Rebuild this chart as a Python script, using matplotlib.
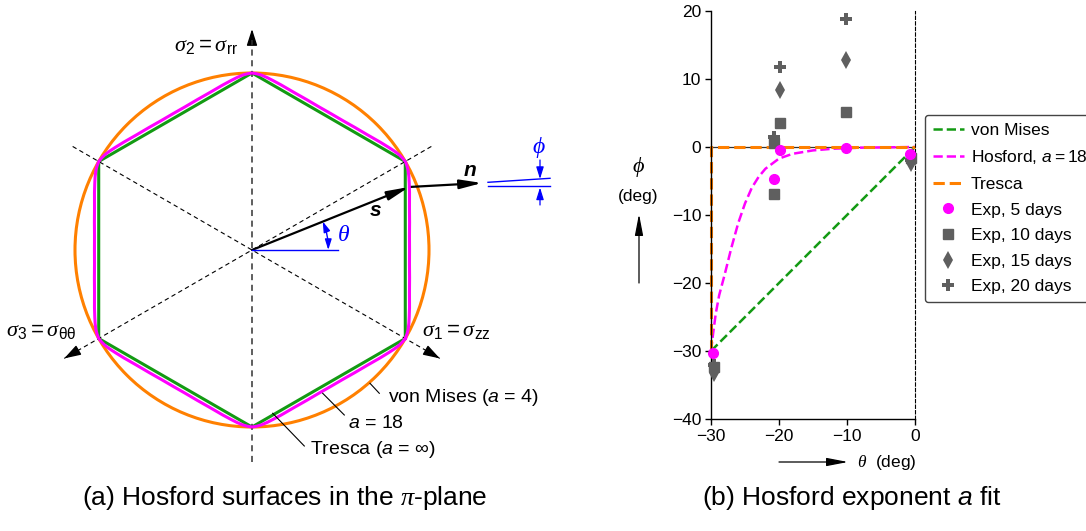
import numpy as np
import matplotlib.pyplot as plt
from matplotlib.patches import Circle, RegularPolygon, FancyArrowPatch

plt.rcParams['font.family'] = ['Liberation Sans', 'DejaVu Sans']
plt.rcParams['mathtext.fontset'] = 'custom'
plt.rcParams['mathtext.rm'] = 'Liberation Sans'
plt.rcParams['mathtext.it'] = 'Liberation Sans:italic'
plt.rcParams['mathtext.bf'] = 'Liberation Sans:bold:italic'
plt.rcParams['mathtext.cal'] = 'Liberation Serif:italic'

W, H = 1086, 531
GREEN, MAGENTA, ORANGE, GREY, BLUE = '#139a13', '#ff00ff', '#ff8000', '#5f5f5f', '#0000ff'

# (a) a = 18 surface in the pi-plane, radius relative to the von Mises circle,
# angle (deg) measured from the middle of a Tresca edge up to the next vertex
h18_ang = [0, 5, 10, 15, 20, 23, 25, 27, 28.5, 30]
h18_rad = [0.890, 0.893, 0.904, 0.921, 0.947, 0.965, 0.978, 0.990, 0.996, 1.0]

# (b) normal angle phi against theta
theta_vm = [-30, 0]
phi_vm = [-30, 0]
theta_tr = [-30, -30, 0]
phi_tr = [-30, 0, 0]
theta_h18 = [-30, -29.7, -29.3, -28.8, -28.0, -27.0, -26.0, -25.0, -24.0, -23.0,
             -22.0, -20.0, -18.0, -15.0, -12.0, -8.0, -4.0, 0]
phi_h18 = [-30, -27.5, -24.5, -21.8, -18.8, -14.8, -11.2, -8.3, -6.0, -4.4,
           -3.2, -1.7, -1.0, -0.5, -0.25, -0.1, -0.05, 0]

exp5_theta = [-29.75, -20.7, -19.85, -10.15, -0.8]
exp5_phi = [-30.3, -4.75, -0.5, -0.2, -1.0]
exp10_theta = [-29.6, -20.7, -20.75, -19.85, -10.15, -0.6]
exp10_phi = [-32.4, -6.9, 0.6, 3.6, 5.2, -1.6]
exp15_theta = [-29.6, -20.7, -19.85, -10.15, -0.6]
exp15_phi = [-33.2, 1.0, 8.4, 12.8, -2.4]
exp20_theta = [-29.6, -20.75, -19.85, -10.15, -0.6]
exp20_phi = [-32.0, 1.4, 11.8, 18.8, -1.9]

fig = plt.figure(figsize=(W / 100, H / 100), dpi=100)


def fxy(x, y):
    return x / W, 1 - y / H


# ---------------- (a) Hosford surfaces ----------------
CX, CY, R = 252, 250, 177
axa = fig.add_axes([0, 0, 560 / W, 1])
axa.set_xlim(-CX / R, (560 - CX) / R)
axa.set_ylim((CY - H) / R, CY / R)
axa.axis('off')


def p(x, y):
    return (x - CX) / R, (CY - y) / R


def arrow(ax, a, b, color='k', lw=1.0, style='-|>', hl=0.9, hw=0.3, ms=10, **kw):
    ar = FancyArrowPatch(a, b, arrowstyle=f'{style},head_length={hl},head_width={hw}',
                         mutation_scale=ms, color=color, lw=lw, shrinkA=0, shrinkB=0, **kw)
    ax.add_patch(ar)
    return ar


# principal axes
axa.plot([0, 0], [p(0, 462)[1], p(0, 40)[1]], color='#333333', lw=1.1, dashes=(4, 3))
arrow(axa, p(252, 44), p(252, 29), hl=1.0, hw=0.32)
for deg, L_up, L_dn in [(150, 1.17, 1.225), (30, 1.17, 1.225)]:
    t = np.radians(deg)
    a = (L_up * np.cos(t), L_up * np.sin(t))
    b = (-L_dn * np.cos(t), -L_dn * np.sin(t))
    axa.plot([a[0], b[0]], [a[1], b[1]], color='k', lw=0.8, dashes=(4, 3))
    arrow(axa, (-(L_dn - 0.09) * np.cos(t), -(L_dn - 0.09) * np.sin(t)), b, hl=1.0, hw=0.32)

axa.add_patch(Circle((0, 0), 1.0, fill=False, color=ORANGE, lw=2.2))
axa.add_patch(RegularPolygon((0, 0), 6, radius=1.0, fill=False, color=GREEN, lw=2.2))

half = np.array(h18_ang)
rad = np.array(h18_rad)
sec_ang = np.concatenate([-half[::-1], half[1:]])
sec_rad = np.concatenate([rad[::-1], rad[1:]])
ang = np.radians(np.concatenate([sec_ang + 60 * k for k in range(6)]))
rr = np.tile(sec_rad, 6)
axa.plot(rr * np.cos(ang), rr * np.sin(ang), color=MAGENTA, lw=2.2)

# s and n vectors
tip = p(409, 187)
arrow(axa, (0, 0), tip, lw=1.6, hl=1.2, hw=0.25, ms=11)
arrow(axa, tip, p(482, 183), lw=1.6, hl=1.2, hw=0.25, ms=11)
axa.text(*p(376, 210), 's', fontsize=15, fontweight='bold', style='italic',
         ha='center', va='center')
axa.text(*p(470, 170), 'n', fontsize=15, fontweight='bold', style='italic',
         ha='center', va='center')

# theta marker (blue)
axa.plot([0, p(338, 250)[0]], [0, 0], color=BLUE, lw=1.0)
rho, th = 0.431, np.radians(22)
axa.add_patch(FancyArrowPatch((rho, 0), (rho * np.cos(th), rho * np.sin(th)),
                              connectionstyle=f'arc3,rad={np.tan(th / 4):.4f}',
                              arrowstyle='<|-|>,head_length=0.7,head_width=0.22',
                              mutation_scale=9, color=BLUE, lw=1.0, shrinkA=0, shrinkB=0))
axa.text(*p(344, 235), r'$\mathcal{\theta}$', fontsize=17, color=BLUE,
         ha='center', va='center')

# phi marker (blue)
axa.plot([p(488, 0)[0], p(550, 0)[0]], [p(0, 182.3)[1], p(0, 178.3)[1]], color=BLUE, lw=1.0)
axa.plot([p(488, 0)[0], p(550, 0)[0]], [p(0, 186.3)[1]] * 2, color=BLUE, lw=1.0)
arrow(axa, p(540, 160), p(540, 179), color=BLUE, lw=0.9, hl=0.8, hw=0.25, ms=9)
arrow(axa, p(540, 205), p(540, 187.5), color=BLUE, lw=0.9, hl=0.8, hw=0.25, ms=9)
axa.text(*p(539, 148), r'$\mathcal{\phi}$', fontsize=17, color=BLUE,
         ha='center', va='center')

# axis labels
axa.text(*p(238, 47), r'$\mathcal{\sigma}_2 = \mathcal{\sigma}_\mathrm{rr}$', fontsize=16,
         ha='right', va='center')
axa.text(*p(6, 331), r'$\mathcal{\sigma}_3 = \mathcal{\sigma}_{\mathrm{\theta\theta}}$',
         fontsize=16, ha='left', va='center')
axa.text(*p(422, 331), r'$\mathcal{\sigma}_1 = \mathcal{\sigma}_\mathrm{zz}$', fontsize=16,
         ha='left', va='center')

# curve labels with leaders
for (x0, y0), (x1, y1), (tx, ty), s in [
        ((370, 383.3), (379.3, 393.3), (388, 397), r'von Mises ($a$ = $\mathit{4}$)'),
        ((322.7, 393.3), (344.3, 415), (348, 423), r'$a$ = 18'),
        ((272.7, 413.3), (304.3, 446), (310, 449), r'Tresca ($a$ = ∞)')]:
    axa.plot([p(x0, y0)[0], p(x1, y1)[0]], [p(x0, y0)[1], p(x1, y1)[1]], color='k', lw=0.8)
    axa.text(*p(tx, ty), s, fontsize=14, ha='left', va='center')

fig.text(*fxy(285, 498), r'(a) Hosford surfaces in the $\mathcal{\pi}$-plane', fontsize=19,
         ha='center', va='center')

# ---------------- (b) exponent fit ----------------
axb = fig.add_axes([711 / W, 1 - 419 / H, 204 / W, 408 / H])
axb.axhline(0, color='#333333', lw=0.9, zorder=1)
axb.plot(theta_vm, phi_vm, '--', color=GREEN, lw=1.8, label='von Mises', zorder=2)
axb.plot(theta_h18, phi_h18, '--', color=MAGENTA, lw=1.8, label='Hosford, $a{=}18$', zorder=2)
axb.plot(theta_tr, phi_tr, '--', color=ORANGE, lw=2.2, label='Tresca', zorder=2, clip_on=False)
axb.plot(exp5_theta, exp5_phi, 'o', color=MAGENTA, ms=7, label='Exp, 5 days', clip_on=False, zorder=4)
axb.plot(exp10_theta, exp10_phi, 's', color=GREY, ms=7, label='Exp, 10 days', clip_on=False, zorder=3)
axb.plot(exp15_theta, exp15_phi, 'd', color=GREY, ms=9, mew=0, label='Exp, 15 days', clip_on=False, zorder=3)
axb.plot(exp20_theta, exp20_phi, 'P', color=GREY, ms=8, mew=0, label='Exp, 20 days', clip_on=False, zorder=3)

axb.set_xlim(-30, 0)
axb.set_ylim(-40, 20)
axb.set_xticks([-30, -20, -10, 0])
axb.set_yticks([-40, -30, -20, -10, 0, 10, 20])
axb.tick_params(direction='out', length=4, width=1, labelsize=12.5, pad=3)
axb.spines['top'].set_visible(False)
axb.spines['right'].set_linestyle((0, (3, 2)))
axb.spines['right'].set_linewidth(0.8)
for s in ['left', 'bottom']:
    axb.spines[s].set_linewidth(1.0)

axb.legend(loc='upper left', bbox_to_anchor=fxy(925, 115), bbox_transform=fig.transFigure,
           fontsize=12.5, handlelength=1.8, handletextpad=0.4, labelspacing=0.6,
           borderpad=0.45, borderaxespad=0, numpoints=1, framealpha=1,
           edgecolor='#444444', fancybox=True)

# axis labels with arrows
fig.text(*fxy(638, 167), r'$\mathcal{\phi}$', fontsize=16, ha='center', va='center')
fig.text(*fxy(638, 197), '(deg)', fontsize=12.5, ha='center', va='center')
fig.add_artist(FancyArrowPatch(fxy(639, 283), fxy(639, 214), transform=fig.transFigure,
                               arrowstyle='-|>,head_length=1.3,head_width=0.25', mutation_scale=10,
                               color='k', lw=0.9, shrinkA=0, shrinkB=0))
fig.add_artist(FancyArrowPatch(fxy(779, 462), fxy(848, 462), transform=fig.transFigure,
                               arrowstyle='-|>,head_length=1.3,head_width=0.25', mutation_scale=10,
                               color='k', lw=0.9, shrinkA=0, shrinkB=0))
fig.text(*fxy(857, 462), r'$\mathcal{\theta}$  (deg)', fontsize=12.5, ha='left', va='center')

fig.text(*fxy(852, 498), r'(b) Hosford exponent $a$ fit', fontsize=19,
         ha='center', va='center')

fig.savefig('out.png', dpi=100)
